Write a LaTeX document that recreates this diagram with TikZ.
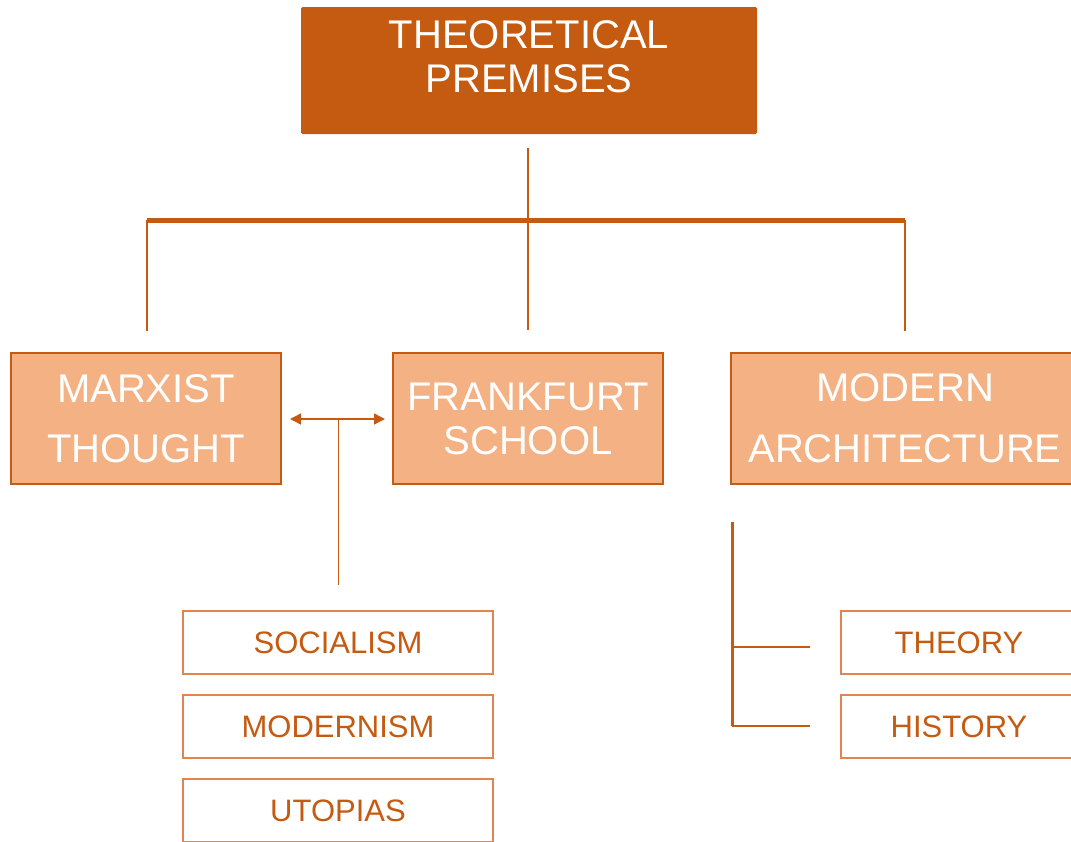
\documentclass[tikz,border=0pt]{standalone}
\usepackage{fontspec}
\setmainfont{Liberation Sans}
\usetikzlibrary{arrows.meta}
\definecolor{rust}{HTML}{C55A11}
\definecolor{peach}{HTML}{F4B183}
\definecolor{edgeorange}{HTML}{DE8550}
\tikzset{
  headbox/.style={rectangle, fill=rust, rounded corners=1.5pt, inner sep=0pt,
    minimum width=456pt, minimum height=127pt},
  headtext/.style={text=white, align=center, inner sep=0pt,
    font=\fontsize{40}{44}\selectfont},
  midbox/.style={rectangle, draw=rust, line width=2.2pt, fill=peach, inner sep=0pt,
    minimum height=131pt, text=white, align=center},
  subbox/.style={rectangle, draw=edgeorange, line width=1.4pt, fill=white, inner sep=0pt,
    minimum height=63pt, text=rust, font=\fontsize{31}{31}\selectfont,
    text height=22pt, text depth=0pt},
  link/.style={draw=rust, line width=1.5pt},
  twoway/.style={link, >={Triangle[length=11pt,width=11pt]}, <->},
}
\begin{document}
\begin{tikzpicture}[x=1pt, y=-1pt]
  \useasboundingbox (0,0) rectangle (1071,841);
  \clip (0,0) rectangle (1071,841);

  % root
  \node[headbox] (top) at (529,70.5) {};
  \node[headtext] (toplabel) at (529,56.5) {THEORETICAL\\PREMISES};

  % three main branches
  \node[midbox, minimum width=270pt,
        font=\fontsize{40}{60}\selectfont] (marx) at (146,418.5) {MARXIST\\THOUGHT};
  \node[midbox, minimum width=270pt,
        font=\fontsize{40}{44}\selectfont] (frank) at (528,418.5) {FRANKFURT\\SCHOOL};
  \node[midbox, minimum width=348pt,
        font=\fontsize{40}{61}\selectfont] (modern) at (905,418.5) {MODERN\\ARCHITECTURE};

  % sub-topics
  \node[subbox, minimum width=310pt] (soc) at (338,642.5) {SOCIALISM};
  \node[subbox, minimum width=310pt] (mdn) at (338,726.5) {MODERNISM};
  \node[subbox, minimum width=310pt] (uto) at (338,810.5) {UTOPIAS};
  \node[subbox, minimum width=236pt] (theory) at (959,642.5) {THEORY};
  \node[subbox, minimum width=236pt] (history) at (959,726.5) {HISTORY};

  % tree connectors
  \coordinate (stemtop) at (528,148);
  \coordinate (stembot) at (528,330);
  \coordinate (barL) at (147,220);
  \coordinate (barR) at (905,220);
  \coordinate (legL) at (147,331);
  \coordinate (legR) at (905,331);
  \path[link] (stemtop) -- (stembot);
  \path[draw=rust, line width=5pt] (barL) -- (barR);
  \path[link] (barL) -- (legL);
  \path[link] (barR) -- (legR);

  % link between Marxist thought and Frankfurt school
  \coordinate (arrL) at (290,419);
  \coordinate (arrR) at (385,419);
  \coordinate (arrMid) at (338.5,419);
  \coordinate (dropEnd) at (338.5,585);
  \draw[twoway] (arrL) -- (arrR);
  \path[link] (arrMid) -- (dropEnd);

  % bracket for modern architecture
  \coordinate (brTop) at (732,522);
  \coordinate (brBot) at (732,726);
  \coordinate (brT) at (810,647);
  \coordinate (brH) at (810,726);
  \path[draw=rust, line width=3pt] (brTop) -- (brBot);
  \path[link] (brT -| brTop) -- (brT);
  \path[link] (brBot) -- (brH);
\end{tikzpicture}
\end{document}
